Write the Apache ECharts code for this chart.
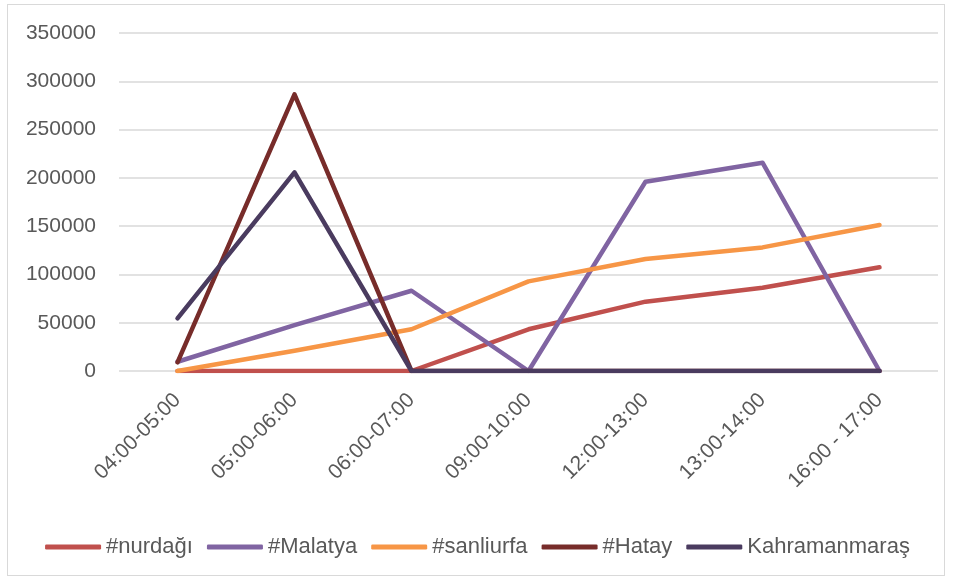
<!DOCTYPE html>
<html>
<head>
<meta charset="utf-8">
<script src="https://cdn.jsdelivr.net/npm/echarts@6/dist/echarts.min.js"></script>
<style>
  html, body { margin: 0; padding: 0; background: #fff; }
  #frame {
    position: absolute; left: 7px; top: 4px; width: 938px; height: 572px;
    border: 1px solid #d9d9d9; box-sizing: border-box;
  }
  #myChart { position: absolute; left: 0; top: 0; width: 955px; height: 581px; }
</style>
</head>
<body>
<div id="frame"></div>
<div id="myChart"></div>
<script>
// categories
var hours = ['04:00-05:00', '05:00-06:00', '06:00-07:00', '09:00-10:00', '12:00-13:00', '13:00-14:00', '16:00 - 17:00']
var yTicks = [0, 50000, 100000, 150000, 200000, 250000, 300000, 350000]

// series values
var nurdagi = [0, 0, 0, 43200, 71800, 86300, 107400]
var malatya = [9600, 47600, 83100, 0, 196000, 215700, 0]
var sanliurfa = [0, 21000, 43200, 92800, 116000, 128000, 151200]
var hatay = [9000, 286500, 0, 0, 0, 0, 0]
var kahramanmaras = [54500, 205700, 0, 0, 0, 0, 0]

var names = ['#nurdağı', '#Malatya', '#sanliurfa', '#Hatay', 'Kahramanmaraş']
var colors = ['#c0504d', '#8064a2', '#f79646', '#772c2a', '#4a3b5f']
var values = [nurdagi, malatya, sanliurfa, hatay, kahramanmaras]

var font = '"Liberation Sans", "DejaVu Sans", sans-serif'

var myChart = echarts.init(document.getElementById('myChart'))

var series = []
for (var i = 0; i < names.length; i++) {
  series.push({
    name: names[i],
    type: 'line',
    data: values[i],
    symbol: 'none',
    color: colors[i],
    lineStyle: { width: 4.5, color: colors[i], cap: 'round', join: 'round' }
  })
}

myChart.setOption({
  animation: false,
  textStyle: { fontFamily: font },
  grid: { left: 119, right: 17, top: 33, bottom: 210 },
  legend: {
    top: 531,
    left: 'center',
    itemWidth: 56,
    itemHeight: 5,
    itemGap: 14,
    icon: 'roundRect',
    textStyle: { fontSize: 22, color: '#595959', fontFamily: font },
    data: names
  },
  xAxis: {
    type: 'category',
    data: hours,
    boundaryGap: true,
    axisLine: { show: false },
    axisTick: { show: false },
    axisLabel: { rotate: 45, fontSize: 21, color: '#595959', margin: 26, interval: 0 }
  },
  yAxis: {
    type: 'value',
    min: yTicks[0],
    max: yTicks[yTicks.length - 1],
    interval: 50000,
    axisLine: { show: false },
    axisTick: { show: false },
    axisLabel: { fontSize: 21, color: '#595959', margin: 23, formatter: function (v) { return String(v) } },
    splitLine: { lineStyle: { color: '#d9d9d9', width: 1.5 } }
  },
  series: series
})
</script>
</body>
</html>
